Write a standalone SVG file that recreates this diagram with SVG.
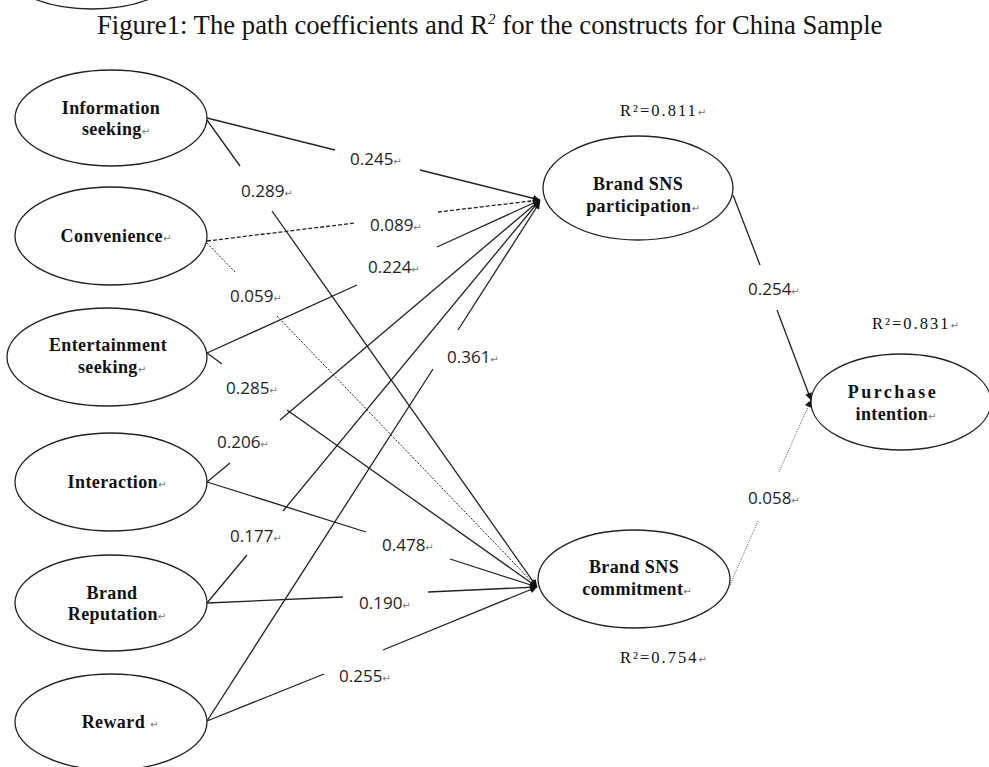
<svg xmlns="http://www.w3.org/2000/svg" width="989" height="767" viewBox="0 0 989 767">
<style>
.node ellipse{fill:#fff;stroke:#222;stroke-width:1.3}
.nt{font-family:"Liberation Serif","Times New Roman",serif;font-weight:bold;font-size:18px;fill:#111;text-anchor:middle;letter-spacing:0.4px}
.coef{font-family:"Open Sans","Liberation Sans",sans-serif;font-size:17px;fill:#1e1e1e}
.r2{font-family:"Liberation Serif","Times New Roman",serif;font-size:16.5px;fill:#111;letter-spacing:2px}
.rt{font-family:"DejaVu Sans",sans-serif;font-size:10px;fill:#777;font-weight:normal;letter-spacing:0}
.title{font-family:"Liberation Serif","Times New Roman",serif;font-size:26.7px;fill:#111}
#connectors line{stroke:#222;stroke-width:1.3;fill:none}
#connectors line.dash{stroke-dasharray:4 2}
#connectors line.fine{stroke-dasharray:2 1.5;stroke-width:1}
#connectors line.dot{stroke-dasharray:1 1.3;stroke-width:1;stroke:#555}
</style>
<defs>
<marker id="ah" viewBox="0 0 10 10" refX="10" refY="5" markerWidth="9" markerHeight="7" markerUnits="userSpaceOnUse" orient="auto">
<path d="M0,0 L10,5 L0,10 Z" fill="#111"/>
</marker>
</defs>
<rect width="989" height="767" fill="#fff"/>

<g id="prev-node" class="node"><ellipse cx="92" cy="-40" rx="95" ry="49"/></g>

<text class="title" x="97" y="34">Figure1: The path coefficients and R<tspan font-size="15" dy="-10" font-style="italic">2</tspan><tspan dy="10"> for the constructs for China Sample</tspan></text>

<g id="connectors">
<!-- Information seeking -> participation 0.245 -->
<line x1="207" y1="118" x2="335" y2="150"/>
<line x1="420" y1="170" x2="540" y2="200" marker-end="url(#ah)"/>
<!-- Information seeking -> commitment 0.289 -->
<line x1="207" y1="120" x2="240" y2="166"/>
<line x1="272" y1="211" x2="537" y2="587" marker-end="url(#ah)"/>
<!-- Convenience -> participation 0.089 -->
<line class="dash" x1="207" y1="241" x2="355" y2="223"/>
<line class="dash" x1="438" y1="212" x2="540" y2="200" marker-end="url(#ah)"/>
<!-- Convenience -> commitment 0.059 -->
<line class="fine" x1="207" y1="243" x2="235" y2="272"/>
<line class="fine" x1="277" y1="316" x2="537" y2="587" marker-end="url(#ah)"/>
<!-- Entertainment -> participation 0.224 -->
<line x1="207" y1="353" x2="357" y2="285"/>
<line x1="437" y1="247" x2="540" y2="200" marker-end="url(#ah)"/>
<!-- Entertainment -> commitment 0.285 -->
<line x1="207" y1="353" x2="222" y2="364"/>
<line x1="287" y1="410" x2="537" y2="587" marker-end="url(#ah)"/>
<!-- Interaction -> participation 0.206 -->
<line x1="207" y1="482" x2="230" y2="463"/>
<line x1="280" y1="420" x2="540" y2="200" marker-end="url(#ah)"/>
<!-- Interaction -> commitment 0.478 -->
<line x1="207" y1="482" x2="366" y2="532"/>
<line x1="450" y1="559" x2="537" y2="587" marker-end="url(#ah)"/>
<!-- Brand Reputation -> participation 0.177 -->
<line x1="207" y1="603" x2="247" y2="555"/>
<line x1="283" y1="511" x2="540" y2="200" marker-end="url(#ah)"/>
<!-- Brand Reputation -> commitment 0.190 -->
<line x1="207" y1="603" x2="343" y2="597"/>
<line x1="428" y1="592" x2="537" y2="587" marker-end="url(#ah)"/>
<!-- Reward -> participation 0.361 -->
<line x1="207" y1="721" x2="433" y2="369"/>
<line x1="458" y1="330" x2="540" y2="202" marker-end="url(#ah)"/>
<!-- Reward -> commitment 0.255 -->
<line x1="207" y1="721" x2="324" y2="674"/>
<line x1="383" y1="650" x2="537" y2="587" marker-end="url(#ah)"/>
<!-- participation -> purchase 0.254 -->
<line x1="733" y1="195" x2="760" y2="265"/>
<line x1="777" y1="310" x2="811" y2="400" marker-end="url(#ah)"/>
<!-- commitment -> purchase 0.058 -->
<line class="dot" x1="730" y1="585" x2="758" y2="521"/>
<line class="dot" x1="779" y1="472" x2="811" y2="400" marker-end="url(#ah)"/>
</g>

<g id="coef-labels">
<text class="coef" x="350" y="165">0.245<tspan class="rt">↵</tspan></text>
<text class="coef" x="241" y="197">0.289<tspan class="rt">↵</tspan></text>
<text class="coef" x="370" y="231">0.089<tspan class="rt">↵</tspan></text>
<text class="coef" x="368" y="273">0.224<tspan class="rt">↵</tspan></text>
<text class="coef" x="230" y="302">0.059<tspan class="rt">↵</tspan></text>
<text class="coef" x="226" y="394">0.285<tspan class="rt">↵</tspan></text>
<text class="coef" x="217" y="448">0.206<tspan class="rt">↵</tspan></text>
<text class="coef" x="447" y="363">0.361<tspan class="rt">↵</tspan></text>
<text class="coef" x="230" y="542">0.177<tspan class="rt">↵</tspan></text>
<text class="coef" x="382" y="551">0.478<tspan class="rt">↵</tspan></text>
<text class="coef" x="359" y="609">0.190<tspan class="rt">↵</tspan></text>
<text class="coef" x="339" y="682">0.255<tspan class="rt">↵</tspan></text>
<text class="coef" x="748" y="295">0.254<tspan class="rt">↵</tspan></text>
<text class="coef" x="748" y="504">0.058<tspan class="rt">↵</tspan></text>
</g>

<g id="r2-labels">
<text class="r2" x="620" y="116">R²=0.811<tspan class="rt">↵</tspan></text>
<text class="r2" x="872" y="329">R²=0.831<tspan class="rt">↵</tspan></text>
<text class="r2" x="620" y="663">R²=0.754<tspan class="rt">↵</tspan></text>
</g>

<g id="information-seeking" class="node">
<ellipse cx="111" cy="118" rx="96" ry="48"/>
<text class="nt" x="111" y="114">Information</text>
<text class="nt" x="116" y="135">seeking<tspan class="rt">↵</tspan></text>
</g>
<g id="convenience" class="node">
<ellipse cx="111" cy="236" rx="96" ry="49"/>
<text class="nt" x="116" y="242">Convenience<tspan class="rt">↵</tspan></text>
</g>
<g id="entertainment-seeking" class="node">
<ellipse cx="107" cy="357" rx="100" ry="49"/>
<text class="nt" x="108" y="351">Entertainment</text>
<text class="nt" x="112" y="373">seeking<tspan class="rt">↵</tspan></text>
</g>
<g id="interaction" class="node">
<ellipse cx="111" cy="482" rx="96" ry="49"/>
<text class="nt" x="117" y="488">Interaction<tspan class="rt">↵</tspan></text>
</g>
<g id="brand-reputation" class="node">
<ellipse cx="111" cy="603" rx="96" ry="48"/>
<text class="nt" x="112" y="599">Brand</text>
<text class="nt" x="117" y="620">Reputation<tspan class="rt">↵</tspan></text>
</g>
<g id="reward" class="node">
<ellipse cx="111" cy="722" rx="96" ry="48"/>
<text class="nt" x="120" y="728">Reward <tspan class="rt">↵</tspan></text>
</g>
<g id="brand-sns-participation" class="node">
<ellipse cx="638" cy="188" rx="95" ry="52"/>
<text class="nt" x="638" y="190">Brand SNS</text>
<text class="nt" x="643" y="212">participation<tspan class="rt">↵</tspan></text>
</g>
<g id="brand-sns-commitment" class="node">
<ellipse cx="634" cy="579" rx="96" ry="49"/>
<text class="nt" x="634" y="573">Brand SNS</text>
<text class="nt" x="637" y="595">commitment<tspan class="rt">↵</tspan></text>
</g>
<g id="purchase-intention" class="node">
<ellipse cx="901" cy="402" rx="90" ry="48"/>
<text class="nt" x="893" y="398" style="letter-spacing:2.5px">Purchase</text>
<text class="nt" x="896" y="420">intention<tspan class="rt">↵</tspan></text>
</g>
</svg>
